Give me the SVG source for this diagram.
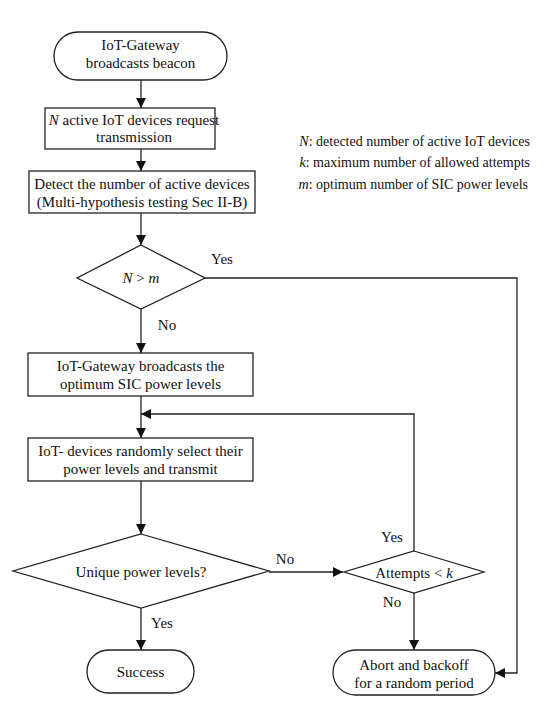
<svg xmlns="http://www.w3.org/2000/svg" width="547" height="722" viewBox="0 0 547 722">
<style>
.s{fill:#fff;stroke:#222;stroke-width:1.3}
.t{font-family:"Liberation Serif","Times New Roman",serif;font-size:15px;fill:#111;text-anchor:middle}
.l{font-family:"Liberation Serif","Times New Roman",serif;font-size:14px;fill:#111}
.c{fill:none;stroke:#222;stroke-width:1.3}
</style>
<defs>
<marker id="a" viewBox="0 0 10 10" refX="10" refY="5" markerWidth="10" markerHeight="10" markerUnits="userSpaceOnUse" orient="auto">
<path d="M0,0 L10,5 L0,10 z" fill="#111"/>
</marker>
</defs>
<rect width="547" height="722" fill="#fff"/>
<g id="connectors">
<path class="c" d="M141,80 V108" marker-end="url(#a)"/>
<path class="c" d="M141,149 V171" marker-end="url(#a)"/>
<path class="c" d="M141,213 V245" marker-end="url(#a)"/>
<path class="c" d="M141,309 V353" marker-end="url(#a)"/>
<path class="c" d="M141,396 V438" marker-end="url(#a)"/>
<path class="c" d="M141,481 V534" marker-end="url(#a)"/>
<path class="c" d="M141,608 V650" marker-end="url(#a)"/>
<path class="c" d="M269,572 H343" marker-end="url(#a)"/>
<path class="c" d="M414,551 V414 H141" marker-end="url(#a)"/>
<path class="c" d="M414,593 V650" marker-end="url(#a)"/>
<path class="c" d="M205,278 H517 V673 H495" marker-end="url(#a)"/>
<text class="t" x="222" y="264">Yes</text>
<text class="t" x="167" y="330">No</text>
<text class="t" x="285" y="564">No</text>
<text class="t" x="392" y="542">Yes</text>
<text class="t" x="392" y="607">No</text>
<text class="t" x="162" y="628">Yes</text>
</g>
<g id="start">
<rect class="s" x="54" y="32" width="173" height="48" rx="24"/>
<text class="t" x="140.5" y="50">IoT-Gateway</text>
<text class="t" x="140.5" y="68">broadcasts beacon</text>
</g>
<g id="request">
<rect class="s" x="45" y="108" width="170" height="41"/>
<text class="t" x="134" y="125"><tspan font-style="italic">N</tspan> active IoT devices request</text>
<text class="t" x="134" y="142">transmission</text>
</g>
<g id="detect">
<rect class="s" x="29" y="171" width="226" height="42"/>
<text class="t" x="142" y="189">Detect the number of active devices</text>
<text class="t" x="142" y="207">(Multi-hypothesis testing Sec II-B)</text>
</g>
<g id="decision1">
<polygon class="s" points="141,245 205,278 141,309 77,278"/>
<text class="t" x="141" y="283"><tspan font-style="italic">N</tspan> &gt; <tspan font-style="italic">m</tspan></text>
</g>
<g id="broadcast">
<rect class="s" x="28" y="353" width="225" height="43"/>
<text class="t" x="140.5" y="371">IoT-Gateway broadcasts the</text>
<text class="t" x="140.5" y="389">optimum SIC power levels</text>
</g>
<g id="select">
<rect class="s" x="28" y="438" width="225" height="43"/>
<text class="t" x="140.5" y="456">IoT- devices randomly select their</text>
<text class="t" x="140.5" y="474">power levels and transmit</text>
</g>
<g id="decision2">
<polygon class="s" points="141,534 269,571 141,608 13,571"/>
<text class="t" x="141" y="577">Unique power levels?</text>
</g>
<g id="decision3">
<polygon class="s" points="414,551 484,572 414,593 344,572"/>
<text class="t" x="414" y="578">Attempts &lt; <tspan font-style="italic">k</tspan></text>
</g>
<g id="success">
<rect class="s" x="87" y="650" width="107" height="43" rx="21.5"/>
<text class="t" x="140.5" y="677">Success</text>
</g>
<g id="abort">
<rect class="s" x="333" y="650" width="162" height="45" rx="22.5"/>
<text class="t" x="414" y="670">Abort and backoff</text>
<text class="t" x="414" y="688">for a random period</text>
</g>
<g id="legend">
<text class="l" x="530" y="146" text-anchor="end"><tspan font-style="italic">N</tspan>: detected number of active IoT devices</text>
<text class="l" x="530" y="167" text-anchor="end"><tspan font-style="italic">k</tspan>: maximum number of allowed attempts</text>
<text class="l" x="528" y="189" text-anchor="end"><tspan font-style="italic">m</tspan>: optimum number of SIC power levels</text>
</g>
</svg>
